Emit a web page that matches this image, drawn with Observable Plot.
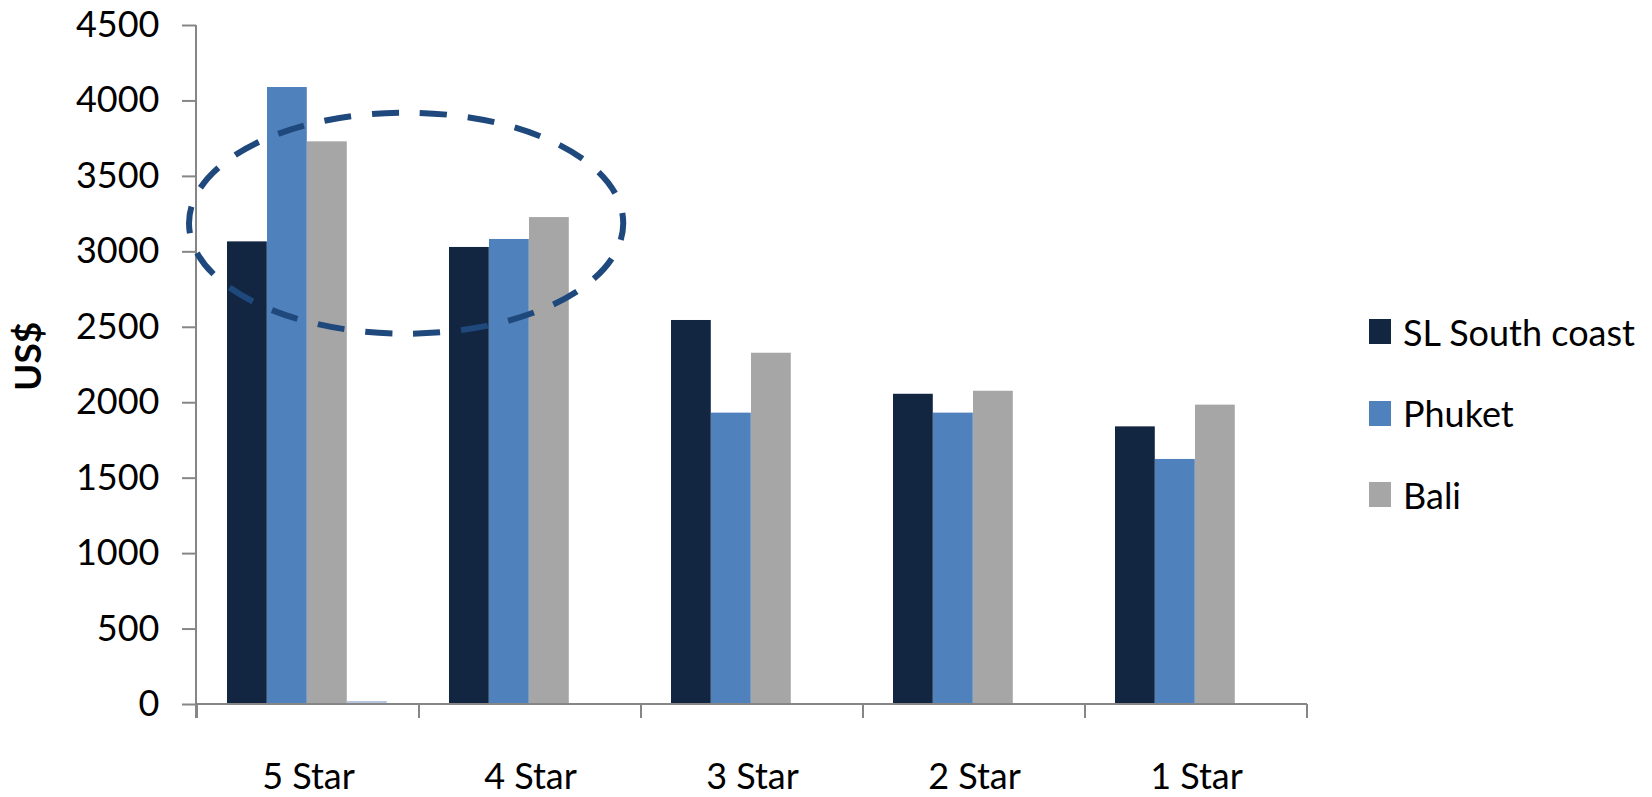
<!DOCTYPE html>
<html>
<head>
<meta charset="utf-8">
<script src="https://cdn.jsdelivr.net/npm/d3@7"></script>
<script src="https://cdn.jsdelivr.net/npm/@observablehq/plot@0.6"></script>
<style>
  html, body { margin: 0; padding: 0; background: #fff; }
  #wrap { position: relative; width: 1652px; height: 797px; overflow: hidden; font-family: Lato, "Open Sans", sans-serif; }
  #wrap svg [aria-label="y-axis tick"] { stroke: #868686; stroke-width: 2; }
  #legend { position: absolute; left: 1369px; top: 291px; font-size: 36px; color: #000; }
  #legend .row { display: flex; align-items: center; height: 81.5px; }
  #legend .sw { width: 22px; height: 25px; margin-right: 12px; }
</style>
</head>
<body>
<div id="wrap"><div id="legend"></div></div>
<script>
// ---- data ----
const categories = ["5 Star", "4 Star", "3 Star", "2 Star", "1 Star"];
const seriesNames = ["SL South coast", "Phuket", "Bali", "Series 4"];
const slSouthCoast = [3066, 3029, 2545, 2056, 1840];
const phuket = [4089, 3082, 1931, 1931, 1624];
const bali = [3729, 3227, 2328, 2076, 1984];
const series4 = [20, 0, 0, 0, 0];
const legendNames = ["SL South coast", "Phuket", "Bali"];
const yTicks = [0, 500, 1000, 1500, 2000, 2500, 3000, 3500, 4000, 4500];
const yLabel = "US$";
// highlighted region (ellipse) in data terms
const ellipseFrom = "5 Star", ellipseFromFrac = -0.036;
const ellipseTo = "4 Star", ellipseToFrac = 0.92;
const ellipseYLow = 2454, ellipseYHigh = 3919;

const colors = ["#122641", "#4F81BD", "#A6A6A6", "#B7C6E0"];
const valuesBySeries = [slSouthCoast, phuket, bali, series4];
const rows = [];
seriesNames.forEach((s, i) => categories.forEach((c, j) => rows.push({category: c, series: s, value: valuesBySeries[i][j]})));

const W = 1652, H = 797, mL = 196, mR = 345, mT = 25, mB = 93;
const bw = (W - mL - mR) / categories.length;
const barW = bw * 0.18;
const offset = bw * 0.135;

const barMarks = seriesNames.map((s, i) => Plot.barY(rows.filter(r => r.series === s), {
  x: "category", y: "value", fill: "series",
  insetLeft: offset + i * barW,
  insetRight: bw - offset - (i + 1) * barW
}));

function axesAndEllipse(index, scales, values, dimensions) {
  const x = scales.x, y = scales.y;
  const step = x(categories[1]) - x(categories[0]);
  const g = d3.create("svg:g");
  const y0 = y(0), yTop = y(4500);
  const left = dimensions.marginLeft, right = dimensions.width - dimensions.marginRight;
  g.append("line").attr("x1", left).attr("x2", left).attr("y1", yTop).attr("y2", y0 + 14)
    .attr("stroke", "#868686").attr("stroke-width", 2);
  g.append("line").attr("x1", left).attr("x2", right).attr("y1", y0).attr("y2", y0)
    .attr("stroke", "#868686").attr("stroke-width", 2);
  const bounds = categories.map(c => x(c)).concat([x(categories[categories.length - 1]) + step]);
  bounds.forEach(b => g.append("line").attr("x1", b).attr("x2", b).attr("y1", y0).attr("y2", y0 + 14)
    .attr("stroke", "#868686").attr("stroke-width", 2));
  const ex0 = x(ellipseFrom) + ellipseFromFrac * step;
  const ex1 = x(ellipseTo) + ellipseToFrac * step;
  const ey0 = y(ellipseYHigh), ey1 = y(ellipseYLow);
  g.append("ellipse")
    .attr("cx", (ex0 + ex1) / 2).attr("cy", (ey0 + ey1) / 2)
    .attr("rx", (ex1 - ex0) / 2).attr("ry", (ey1 - ey0) / 2)
    .attr("fill", "none").attr("stroke", "#1F497D").attr("stroke-width", 6)
    .attr("stroke-dasharray", "27 21").attr("stroke-dashoffset", 10);
  return g.node();
}

const chart = Plot.plot({
  width: W, height: H,
  marginLeft: mL, marginRight: mR, marginTop: mT, marginBottom: mB,
  style: {fontFamily: "Lato, 'Open Sans', sans-serif", fontSize: "36px", color: "#000", background: "transparent", overflow: "visible"},
  x: {domain: categories, padding: 0, tickSize: 0, tickPadding: 59, label: null},
  y: {domain: [0, 4500], ticks: yTicks, tickSize: 14, tickPadding: 23, tickFormat: d => String(d), label: null},
  color: {domain: seriesNames, range: colors},
  marks: [
    ...barMarks,
    axesAndEllipse,
    Plot.text([yLabel], {text: d => d, frameAnchor: "left", rotate: -90, dx: -167, dy: 26, fontWeight: "bold", fontSize: 37})
  ]
});
document.getElementById("wrap").prepend(chart);
chart.style.position = "absolute"; chart.style.left = "0"; chart.style.top = "0";

const legend = document.getElementById("legend");
legendNames.forEach((n, i) => {
  const row = document.createElement("div"); row.className = "row";
  const sw = document.createElement("div"); sw.className = "sw"; sw.style.background = colors[seriesNames.indexOf(n)];
  const t = document.createElement("span"); t.textContent = n;
  row.appendChild(sw); row.appendChild(t); legend.appendChild(row);
});
</script>
</body>
</html>
